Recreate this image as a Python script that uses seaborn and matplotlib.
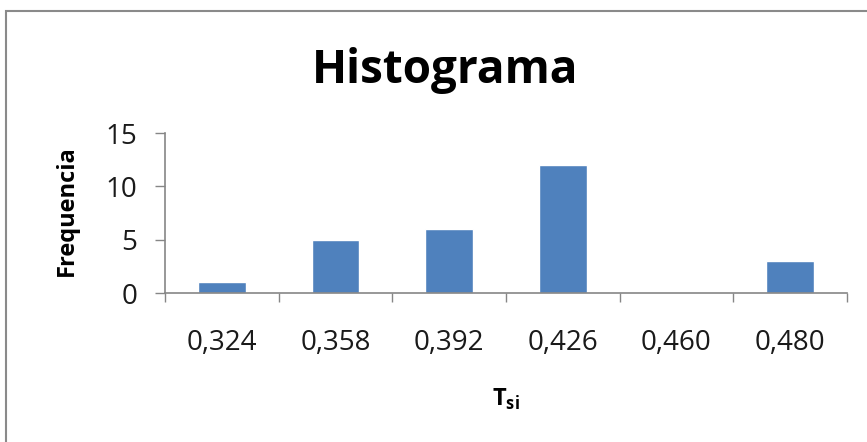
import matplotlib
matplotlib.use("Agg")
import matplotlib.pyplot as plt
from matplotlib.patches import Rectangle
import seaborn as sns
import pandas as pd

# Class marks (T_si) and their counts
classes = ["0,324", "0,358", "0,392", "0,426", "0,460", "0,480"]
counts = [1, 5, 6, 12, 0, 3]

sns.set_theme(style="white")
plt.rcParams["font.family"] = ["Open Sans", "DejaVu Sans"]
plt.rcParams["mathtext.fontset"] = "custom"
plt.rcParams["mathtext.rm"] = "Open Sans"
plt.rcParams["mathtext.bf"] = "Open Sans:bold"

df = pd.DataFrame({"classe": classes, "freq": counts})

fig = plt.figure(figsize=(8.67, 4.42), dpi=100)
ax = fig.add_axes([165 / 867, 1 - 293 / 442, (847 - 165) / 867, (293 - 133) / 442])

sns.barplot(data=df, x="classe", y="freq", color="#4f81bd", saturation=1,
            width=0.42, ax=ax)

grey = "#868686"
ax.set_xlim(-0.5, len(classes) - 0.5)
ax.set_ylim(0, 15)
ax.set_yticks([0, 5, 10, 15])
ax.set_yticklabels(["0", "5", "10", "15"])

# tick marks between categories, labels centred under each bar
ax.set_xticks([i - 0.5 for i in range(len(classes) + 1)])
ax.set_xticklabels([])
ax.set_xticks(range(len(classes)), minor=True)
ax.set_xticklabels(classes, minor=True)
ax.tick_params(axis="x", which="major", length=6.5, width=1, color=grey, direction="out")
ax.tick_params(axis="x", which="minor", length=0, pad=26, labelsize=20, labelcolor="#1a1a1a")
ax.tick_params(axis="y", length=7, width=1, color=grey, direction="out", pad=13,
               labelsize=20, labelcolor="#1a1a1a")
ax.tick_params(axis="both", left=True, bottom=True)

for side in ["top", "right"]:
    ax.spines[side].set_visible(False)
for side in ["left", "bottom"]:
    ax.spines[side].set_color(grey)
    ax.spines[side].set_linewidth(1.2)

ax.set_xlabel("")
ax.set_ylabel("")
fig.text(67 / 867, 1 - 211 / 442, "Frequencia", rotation=90, ha="center", va="center",
         fontsize=17, fontweight="bold", color="black")

fig.text(445 / 867, 1 - 70 / 442, "Histograma", ha="center", va="center",
         fontsize=33, fontweight="bold", color="black")
fig.text(506 / 867, 1 - 399 / 442, r"$\mathbf{T}_{\mathbf{si}}$", ha="center", va="center",
         fontsize=17, color="black")

# chart area frame
fig.patches.append(Rectangle((6 / 867, -0.2), 2, 1.2 - 11 / 442, transform=fig.transFigure,
                             fill=False, edgecolor="#8a8a8a", linewidth=1.5))

fig.savefig("out.png", dpi=100)
